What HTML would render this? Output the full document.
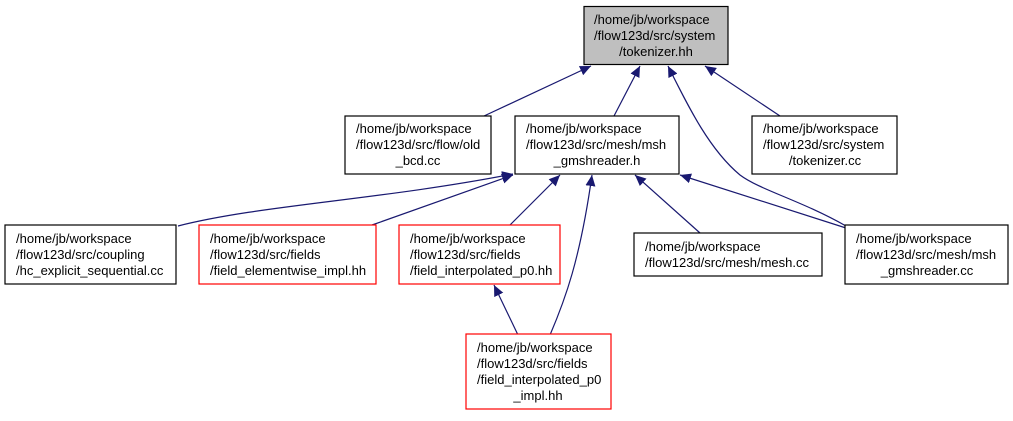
<!DOCTYPE html>
<html><head><style>
body{margin:0;background:#fff;width:1013px;height:416px;overflow:hidden}
svg text{font-family:"Liberation Sans",Arial,sans-serif;font-size:13px;fill:#000}
</style></head><body>
<svg width="1013" height="416" viewBox="0 0 1013 416">
<defs><marker id="a" markerUnits="userSpaceOnUse" markerWidth="12" markerHeight="10" refX="11" refY="5" orient="auto"><path d="M0,0 L11,5 L0,10 Z" fill="#191970"/></marker></defs>
<g fill="none" stroke="#191970" stroke-width="1.2" marker-end="url(#a)">
<path d="M484,116 L591,66"/>
<path d="M614,116 L640,66"/>
<path d="M846,226 C800,200 760,190 740,175 C710,150 690,110 668,66"/>
<path d="M780,116 L705,66"/>
<path d="M178,226 C260,205 380,200 513,174"/>
<path d="M372,225 L513,175"/>
<path d="M510,225 L560,175"/>
<path d="M550,335 C565,300 580,260 592,175"/>
<path d="M700,233 L635,175"/>
<path d="M846,228 L680,175"/>
<path d="M518,335 L494,285"/>
</g>
<g stroke-width="1.2">
<rect x="584" y="6.5" width="144" height="58" fill="#bfbfbf" stroke="#000"/>
<rect x="345" y="116" width="146" height="58" fill="#fff" stroke="#000"/>
<rect x="515" y="116" width="164" height="58" fill="#fff" stroke="#000"/>
<rect x="752" y="116" width="145" height="58" fill="#fff" stroke="#000"/>
<rect x="5" y="225" width="171" height="59" fill="#fff" stroke="#000"/>
<rect x="199" y="225" width="177" height="59" fill="#fff" stroke="#f00"/>
<rect x="399" y="225" width="161" height="59" fill="#fff" stroke="#f00"/>
<rect x="634" y="233" width="188" height="43" fill="#fff" stroke="#000"/>
<rect x="845" y="225" width="163" height="59" fill="#fff" stroke="#000"/>
<rect x="466" y="334" width="145" height="75" fill="#fff" stroke="#f00"/>
</g>
<text x="594" y="24">/home/jb/workspace</text>
<text x="594" y="40">/flow123d/src/system</text>
<text x="656" y="56" text-anchor="middle">/tokenizer.hh</text>
<text x="356" y="133">/home/jb/workspace</text>
<text x="356" y="149">/flow123d/src/flow/old</text>
<text x="418" y="165" text-anchor="middle">_bcd.cc</text>
<text x="526" y="133">/home/jb/workspace</text>
<text x="526" y="149">/flow123d/src/mesh/msh</text>
<text x="597" y="165" text-anchor="middle">_gmshreader.h</text>
<text x="763" y="133">/home/jb/workspace</text>
<text x="763" y="149">/flow123d/src/system</text>
<text x="825" y="165" text-anchor="middle">/tokenizer.cc</text>
<text x="16" y="243">/home/jb/workspace</text>
<text x="16" y="259">/flow123d/src/coupling</text>
<text x="16" y="275">/hc_explicit_sequential.cc</text>
<text x="210" y="243">/home/jb/workspace</text>
<text x="210" y="259">/flow123d/src/fields</text>
<text x="210" y="275">/field_elementwise_impl.hh</text>
<text x="410" y="243">/home/jb/workspace</text>
<text x="410" y="259">/flow123d/src/fields</text>
<text x="410" y="275">/field_interpolated_p0.hh</text>
<text x="645" y="251">/home/jb/workspace</text>
<text x="645" y="267">/flow123d/src/mesh/mesh.cc</text>
<text x="856" y="243">/home/jb/workspace</text>
<text x="856" y="259">/flow123d/src/mesh/msh</text>
<text x="927" y="275" text-anchor="middle">_gmshreader.cc</text>
<text x="477" y="352">/home/jb/workspace</text>
<text x="477" y="368">/flow123d/src/fields</text>
<text x="477" y="384">/field_interpolated_p0</text>
<text x="538" y="400" text-anchor="middle">_impl.hh</text>
</svg>
</body></html>
